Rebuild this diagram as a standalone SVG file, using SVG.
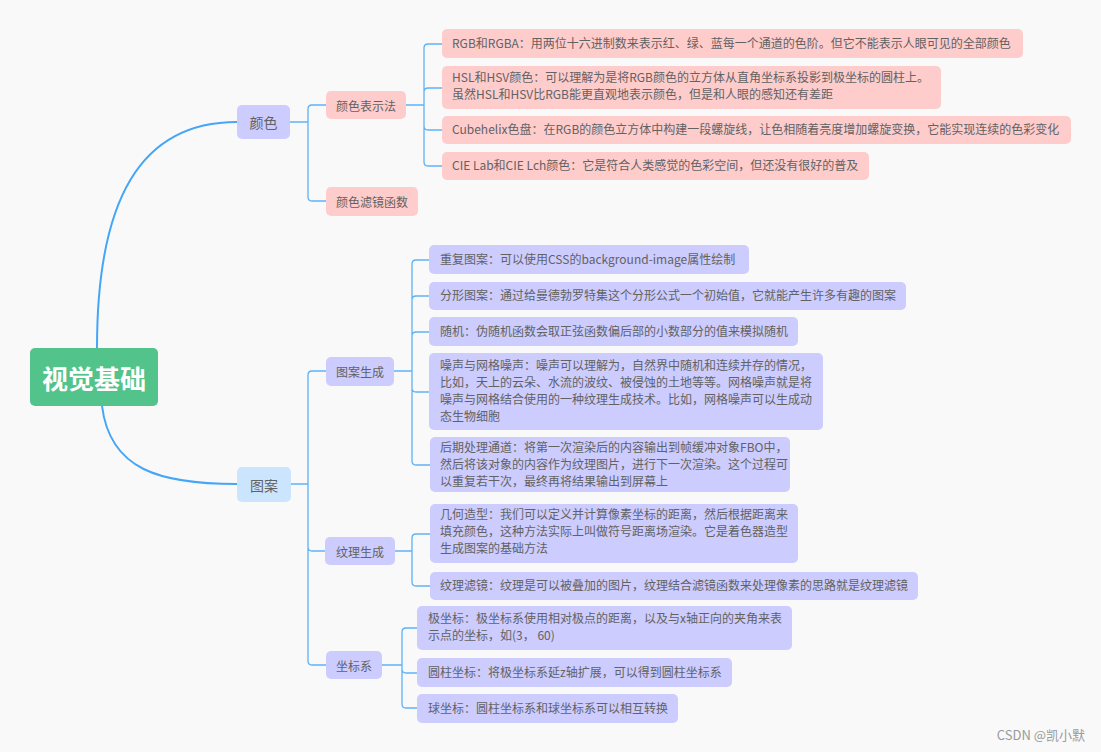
<svg xmlns="http://www.w3.org/2000/svg" width="1101" height="752" viewBox="0 0 1101 752">
<style>
text{font-family:"Noto Sans CJK SC","Microsoft YaHei",sans-serif;fill:#626262;font-size:12px}
.pink{fill:#ffcccc}
.lav{fill:#ccccff}
.blue{fill:#cce5ff}
.lbl{text-anchor:middle;dominant-baseline:central}
.root{fill:#ffffff;font-size:26px;font-weight:bold}
.main{stroke:#45a6f7;stroke-width:2;fill:none}
.br{stroke:#5db2f7;stroke-width:1.3;fill:none}
</style>
<rect width="1101" height="752" fill="#f9f9f9"/>
<g id="connectors">
<path class="main" d="M97 348 C97 200 140 122 237 122"/>
<path class="main" d="M102 406 C110 470 160 484 237 484"/>
<path class="br" d="M290 122 H308 M308 122 V109 Q308 105 312 105 H326 M308 122 V197 Q308 201 312 201 H326"/>
<path class="br" d="M406 105 H424 M424 105 V48 Q424 44 428 44 H442 M424 105 V92 Q424 88 428 88 H442 M424 105 V126 Q424 130 428 130 H442 M424 105 V162 Q424 166 428 166 H442"/>
<path class="br" d="M291 484 H308 M308 484 V375 Q308 371 312 371 H326 M308 484 V547 Q308 551 312 551 H325 M308 484 V661 Q308 665 312 665 H326"/>
<path class="br" d="M394 371 H412 M412 371 V264 Q412 260 416 260 H429 M412 371 V300 Q412 296 416 296 H429 M412 371 V336 Q412 332 416 332 H429 M412 371 V388 Q412 392 416 392 H429 M412 371 V461 Q412 465 416 465 H430"/>
<path class="br" d="M395 551 H412 M412 551 V538 Q412 534 416 534 H430 M412 551 V582 Q412 586 416 586 H430"/>
<path class="br" d="M382 665 H402 M402 665 V632 Q402 628 406 628 H417 M402 665 V669 Q402 673 406 673 H417 M402 665 V704 Q402 708 406 708 H417"/>
</g>
<g id="root"><rect x="30" y="348" width="128" height="58" rx="5" fill="#52c38b"/><text class="lbl root" x="94" y="377">视觉基础</text></g>
<g id="color"><rect class="lav" x="237" y="105" width="53" height="34" rx="5"/><text class="lbl" x="263.5" y="122" style="font-size:14px">颜色</text></g>
<g id="pattern"><rect class="blue" x="237" y="467" width="54" height="35" rx="5"/><text class="lbl" x="264" y="484.5" style="font-size:14px">图案</text></g>
<g id="color-repr"><rect class="pink" x="326" y="91" width="80" height="28" rx="5"/><text class="lbl" x="366" y="105">颜色表示法</text></g>
<g id="color-filter"><rect class="pink" x="326" y="187" width="92" height="29" rx="5"/><text class="lbl" x="372" y="201.5">颜色滤镜函数</text></g>
<g id="rgb"><rect class="pink" x="442" y="29" width="581" height="29" rx="5"/><text x="452" y="48">RGB和RGBA：用两位十六进制数来表示红、绿、蓝每一个通道的色阶。但它不能表示人眼可见的全部颜色</text></g>
<g id="hsl"><rect class="pink" x="442" y="66" width="499" height="43" rx="5"/><text x="452" y="82">HSL和HSV颜色：可以理解为是将RGB颜色的立方体从直角坐标系投影到极坐标的圆柱上。</text><text x="452" y="99">虽然HSL和HSV比RGB能更直观地表示颜色，但是和人眼的感知还有差距</text></g>
<g id="cubehelix"><rect class="pink" x="442" y="116" width="629" height="28" rx="5"/><text x="452" y="134">Cubehelix色盘：在RGB的颜色立方体中构建一段螺旋线，让色相随着亮度增加螺旋变换，它能实现连续的色彩变化</text></g>
<g id="cie"><rect class="pink" x="442" y="152" width="427" height="28" rx="5"/><text x="452" y="170">CIE Lab和CIE Lch颜色：它是符合人类感觉的色彩空间，但还没有很好的普及</text></g>
<g id="pattern-gen"><rect class="lav" x="326" y="357" width="68" height="29" rx="5"/><text class="lbl" x="360" y="371.5">图案生成</text></g>
<g id="texture-gen"><rect class="lav" x="325" y="537" width="70" height="28" rx="5"/><text class="lbl" x="360" y="551">纹理生成</text></g>
<g id="coord"><rect class="lav" x="326" y="651" width="56" height="28" rx="5"/><text class="lbl" x="354" y="665">坐标系</text></g>
<g id="repeat"><rect class="lav" x="429" y="245" width="320" height="29" rx="5"/><text x="440" y="264">重复图案：可以使用CSS的background-image属性绘制</text></g>
<g id="fractal"><rect class="lav" x="429" y="282" width="477" height="28" rx="5"/><text x="440" y="300">分形图案：通过给曼德勃罗特集这个分形公式一个初始值，它就能产生许多有趣的图案</text></g>
<g id="random"><rect class="lav" x="429" y="317" width="369" height="29" rx="5"/><text x="440" y="336">随机：伪随机函数会取正弦函数偏后部的小数部分的值来模拟随机</text></g>
<g id="noise"><rect class="lav" x="429" y="353" width="394" height="77" rx="5"/><text x="440" y="370">噪声与网格噪声：噪声可以理解为，自然界中随机和连续并存的情况，</text><text x="440" y="387">比如，天上的云朵、水流的波纹、被侵蚀的土地等等。网格噪声就是将</text><text x="440" y="404">噪声与网格结合使用的一种纹理生成技术。比如，网格噪声可以生成动</text><text x="440" y="421">态生物细胞</text></g>
<g id="postprocess"><rect class="lav" x="430" y="437" width="360" height="55" rx="5"/><text x="440" y="452">后期处理通道：将第一次渲染后的内容输出到帧缓冲对象FBO中，</text><text x="440" y="469">然后将该对象的内容作为纹理图片，进行下一次渲染。这个过程可</text><text x="440" y="486">以重复若干次，最终再将结果输出到屏幕上</text></g>
<g id="geometry"><rect class="lav" x="430" y="504" width="368" height="59" rx="5"/><text x="440" y="519">几何造型：我们可以定义并计算像素坐标的距离，然后根据距离来</text><text x="440" y="536">填充颜色，这种方法实际上叫做符号距离场渲染。它是着色器造型</text><text x="440" y="553">生成图案的基础方法</text></g>
<g id="texture-filter"><rect class="lav" x="430" y="572" width="488" height="28" rx="5"/><text x="440" y="590">纹理滤镜：纹理是可以被叠加的图片，纹理结合滤镜函数来处理像素的思路就是纹理滤镜</text></g>
<g id="polar"><rect class="lav" x="417" y="606" width="375" height="44" rx="5"/><text x="428" y="623">极坐标：极坐标系使用相对极点的距离，以及与x轴正向的夹角来表</text><text x="428" y="640">示点的坐标，如(3， 60)</text></g>
<g id="cylinder"><rect class="lav" x="417" y="658" width="315" height="29" rx="5"/><text x="428" y="677">圆柱坐标：将极坐标系延z轴扩展，可以得到圆柱坐标系</text></g>
<g id="sphere"><rect class="lav" x="417" y="694" width="261" height="29" rx="5"/><text x="428" y="713">球坐标：圆柱坐标系和球坐标系可以相互转换</text></g>
<text x="1085" y="740" style="font-size:13px;fill:#9a9a9a;text-anchor:end">CSDN @凯小默</text>
</svg>
